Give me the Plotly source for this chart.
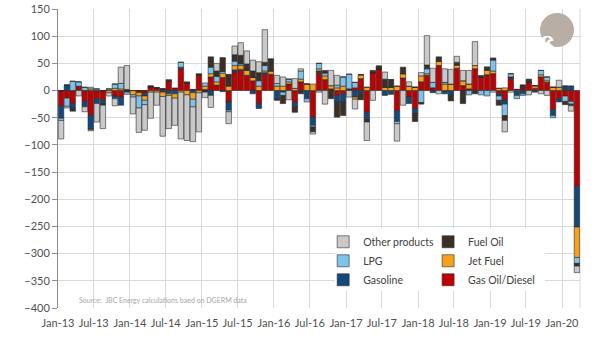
import pandas as pd
import plotly.graph_objects as go

months = pd.date_range("2013-01-01", "2020-03-01", freq="MS")

gas_oil_diesel = [
    -28, -14, -24, 8, -20, -45, -15, -17, 0, -10,
    -12, 0, 0, -4, -5, 7, 5, 3, 18, 4,
    40, 14, 2, 28, 0, 25, 10, 24, -21, 34,
    37, 28, 18, -24, 30, 30, 0, 0, 12, -22,
    16, 0, -49, 32, 20, 3, -9, -6, 3, 5,
    22, -40, 33, 40, 0, 0, -37, 23, -12, -33,
    16, 28, 5, 46, 0, 0, 41, 9, 3, 40,
    24, 29, 31, -6, -17, 22, 0, 5, 15, 4,
    25, 15, -35, -15, -10, -20, -176]
gasoline = [
    -23, 10, -10, 0, -10, -25, -9, -7, 0, -5,
    -15, -3, 0, 0, -5, 0, 0, -3, -6, -6,
    3, 0, -4, 0, 2, -9, 0, -2, -15, 4,
    2, 0, -6, -9, 3, 0, -15, -3, 0, -8,
    0, -15, -15, 4, 0, 0, -12, -15, 0, -12,
    -5, -12, 0, 0, -9, -7, -20, 0, -12, -10,
    0, 0, -4, 0, -6, -9, 0, 0, 0, 0,
    0, 0, 0, -4, -8, 3, -9, -6, 0, -3,
    0, 0, -11, -6, 8, 8, -75]
jet_fuel = [
    0, 0, 0, 0, 0, 3, 0, 0, -4, 4,
    3, 0, -8, -6, -8, -3, -3, -8, -3, -8,
    -3, -8, -12, -4, 6, 6, 6, 8, 8, 8,
    7, 9, 6, 8, 3, 6, 8, 8, 4, 4,
    5, 12, 12, 4, 7, 6, 5, 8, 0, -4,
    7, 6, 0, 0, 6, 6, 8, 8, 8, 6,
    11, 3, 0, 8, 12, 12, 6, 9, 9, 6,
    0, 8, 5, 4, 5, 0, 2, 0, 0, 5,
    4, 3, 6, 6, 0, 0, -56]
lpg = [
    -4, -15, 17, 8, 6, 3, 3, 0, 3, 8,
    10, -4, -4, -22, -8, 0, 0, 0, 0, 0,
    9, 0, -14, 0, 6, 12, 10, 3, -3, 8,
    3, 0, 0, 10, 10, 0, 5, -6, 5, 0,
    15, -6, -3, 10, 5, 0, 5, 17, 27, 10,
    0, 0, 0, 0, 0, 0, -4, 0, 0, 0,
    -22, 9, 10, 0, 3, 0, 0, 0, -8, 0,
    -8, -10, 20, -8, -21, 6, -6, -3, 0, 0,
    8, 7, -4, 0, -10, -5, -11]
fuel_oil = [
    0, 0, -4, 0, 0, -2, 0, -3, 0, 0,
    0, 2, 0, 0, 0, 2, 0, 0, 2, 0,
    0, 2, 0, 3, -3, 19, 10, 25, 22, 12,
    16, 12, 12, 15, 6, 22, -3, -15, 0, -10,
    -6, 0, -9, 0, 5, -15, -28, -25, 0, 0,
    -12, -6, 4, 5, 15, 14, 0, 12, 0, -14,
    -3, 7, 0, 8, 0, -10, 5, -24, 0, -6,
    3, 6, 4, -9, -9, 0, 0, 5, 6, 0,
    0, 0, 0, 0, -6, -3, -5]
other_products = [
    -34, -3, 0, -10, -9, -2, -34, -43, -6, -13,
    30, 44, -31, -45, -47, -48, -24, -73, -61, -50,
    -86, -84, -64, -72, -10, -22, 14, 0, -22, 16,
    23, 24, 20, 20, 60, 0, 15, 17, -17, 18,
    4, 0, -4, -3, -25, 28, 18, 0, -12, -18,
    0, -34, -18, 0, 13, 0, -32, -27, 8, 0,
    6, 54, 26, -6, 25, 27, 11, 19, 25, 44,
    0, 0, -3, 0, -21, -3, 0, 0, -8, 0,
    -6, -9, 0, 13, 0, -10, -12]

series = [
    ("Gas Oil/Diesel", gas_oil_diesel, "#C00000", "legend2"),
    ("Gasoline", gasoline, "#12497A", "legend"),
    ("Jet Fuel", jet_fuel, "#F7A21B", "legend2"),
    ("LPG", lpg, "#7DC3EC", "legend"),
    ("Fuel Oil", fuel_oil, "#3A3028", "legend2"),
    ("Other products", other_products, "#C9C9C9", "legend"),
]

fig = go.Figure()
for name, vals, color, leg in series:
    fig.add_trace(go.Bar(
        x=months, y=vals, name=name, legend=leg,
        xperiod="M1", xperiodalignment="middle",
        marker=dict(color=color, line=dict(color="#2b2b2b", width=0.6)),
    ))

font_family = "Lato, Carlito, Calibri, sans-serif"
leg_font = dict(size=10.5, color="#404040")
fig.update_layout(
    width=609, height=340,
    margin=dict(l=58, r=29, t=9, b=32, autoexpand=False),
    barmode="relative", bargap=0.06,
    paper_bgcolor="white", plot_bgcolor="white",
    font=dict(family=font_family, size=11, color="#505050"),
    legend=dict(x=0.508, y=0.27, xanchor="left", yanchor="top",
                orientation="v", traceorder="reversed",
                bgcolor="rgba(0,0,0,0)", font=leg_font, itemwidth=30),
    legend2=dict(x=0.709, y=0.27, xanchor="left", yanchor="top",
                 orientation="v", traceorder="reversed",
                 bgcolor="rgba(0,0,0,0)", font=leg_font, itemwidth=30),
)
fig.update_xaxes(
    type="date", range=["2013-01-01", "2020-04-01"],
    tick0="2013-01-01", dtick="M6", tickformat="%b-%y",
    showgrid=True, gridcolor="#d9d9d9", gridwidth=1,
    ticks="outside", ticklen=5, tickcolor="rgba(0,0,0,0)",
    tickfont=dict(size=11, color="#505050"),
    showline=False, zeroline=False, automargin=False,
)
fig.update_yaxes(
    range=[-400, 150], dtick=50, tick0=0,
    showgrid=True, gridcolor="#d9d9d9", gridwidth=1,
    zeroline=False, showline=True, linecolor="#8c8c8c", linewidth=1,
    ticks="outside", ticklen=5, tickcolor="#8c8c8c",
    tickfont=dict(size=11, color="#505050"), automargin=False,
)

# right border of plot area
fig.add_shape(type="line", xref="paper", yref="paper", x0=1, x1=1, y0=0, y1=1,
              line=dict(color="#d9d9d9", width=1), layer="below")

# white background behind the two legend columns
fig.add_shape(type="rect", xref="paper", yref="paper",
              x0=(335 - 58) / 522, x1=(545 - 58) / 522,
              y0=(308 - 290) / 299, y1=(308 - 229) / 299,
              fillcolor="white", line=dict(width=0), layer="above")

# logo
fig.add_shape(type="circle", xref="paper", yref="paper",
              xsizemode="pixel", ysizemode="pixel",
              xanchor=0.956, yanchor=0.93, x0=-17, x1=17, y0=-17, y1=17,
              fillcolor="#B8AEA6", line=dict(width=0), layer="above")
fig.add_annotation(xref="paper", yref="paper", x=0.958, y=0.93,
                   text="<b>ß</b>", showarrow=False,
                   font=dict(family="DejaVu Serif", size=22, color="white"))

fig.add_annotation(xref="paper", yref="paper", x=(77 - 58) / 522, y=(308 - 300) / 299,
                   xanchor="left", yanchor="middle", showarrow=False,
                   text="Source:  JBC Energy calculations baed on DGERM data",
                   font=dict(size=7, color="#a6a6a6"))

fig.write_html("out.html")
